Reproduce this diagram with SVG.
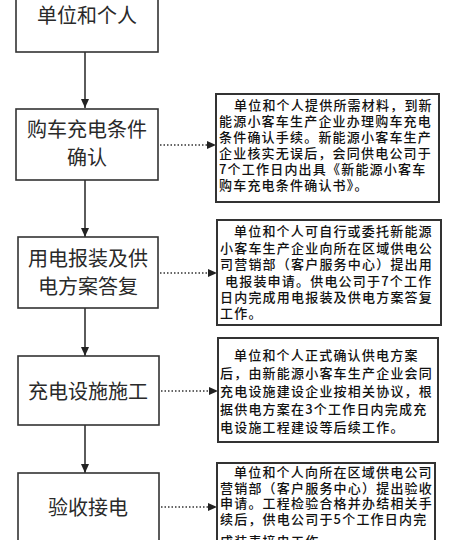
<svg xmlns="http://www.w3.org/2000/svg" width="450" height="540" viewBox="0 0 450 540">
<defs>
<style>
.step rect{fill:#fff;stroke:#333;stroke-width:1.6}
.step text{font-family:"Noto Sans CJK SC","Noto Sans",sans-serif;font-size:20px;fill:#2a2a2a;text-anchor:middle}
.note rect{fill:#fff;stroke:#333;stroke-width:2}
.note text{font-family:"Noto Sans CJK SC","Noto Sans",sans-serif;font-size:13px;letter-spacing:1.2px;font-weight:500;fill:#111}
.flow{stroke:#333;stroke-width:1.6;fill:none}
.dot{stroke:#333;stroke-width:1.6;fill:none;stroke-dasharray:1.5 2}
</style>
<marker id="ah" markerWidth="10" markerHeight="10" refX="9" refY="5" orient="auto" markerUnits="userSpaceOnUse">
<path d="M0,1 L9,5 L0,9 Z" fill="#222"/>
</marker>
</defs>
<rect width="450" height="540" fill="#fff"/>

<g id="connectors">
<line class="flow" x1="85" y1="52" x2="85" y2="108" marker-end="url(#ah)"/>
<line class="flow" x1="85" y1="180" x2="85" y2="237" marker-end="url(#ah)"/>
<line class="flow" x1="85" y1="308" x2="85" y2="356" marker-end="url(#ah)"/>
<line class="flow" x1="85" y1="425" x2="85" y2="473" marker-end="url(#ah)"/>
<line class="dot" x1="160" y1="145" x2="216" y2="145" marker-end="url(#ah)"/>
<line class="dot" x1="160" y1="273" x2="217" y2="273" marker-end="url(#ah)"/>
<line class="dot" x1="161" y1="391" x2="218" y2="391" marker-end="url(#ah)"/>
<line class="dot" x1="161" y1="507" x2="217" y2="507" marker-end="url(#ah)"/>
</g>

<g id="step1" class="step">
<rect x="16" y="-20" width="142" height="72"/>
<text x="87" y="23">单位和个人</text>
</g>
<g id="step2" class="step">
<rect x="16" y="109" width="142" height="71"/>
<text x="87" y="137">购车充电条件</text>
<text x="87" y="165">确认</text>
</g>
<g id="step3" class="step">
<rect x="18" y="237" width="140" height="71"/>
<text x="88" y="266">用电报装及供</text>
<text x="88" y="294">电方案答复</text>
</g>
<g id="step4" class="step">
<rect x="18" y="356" width="141" height="69"/>
<text x="88" y="399">充电设施施工</text>
</g>
<g id="step5" class="step">
<rect x="18" y="473" width="141" height="100"/>
<text x="88" y="515">验收接电</text>
</g>

<g id="note1" class="note">
<rect x="216" y="94" width="223" height="108"/>
<text x="234" y="110">单位和个人提供所需材料，到新</text>
<text x="219" y="126">能源小客车生产企业办理购车充电</text>
<text x="219" y="142">条件确认手续。新能源小客车生产</text>
<text x="219" y="158">企业核实无误后，会同供电公司于</text>
<text x="219" y="174">7个工作日内出具《新能源小客车</text>
<text x="219" y="190">购车充电条件确认书》。</text>
</g>
<g id="note2" class="note">
<rect x="217" y="220" width="224" height="105"/>
<text x="234" y="236">单位和个人可自行或委托新能源</text>
<text x="220" y="252.5">小客车生产企业向所在区域供电公</text>
<text x="220" y="269">司营销部（客户服务中心）提出用</text>
<text x="225" y="285.5">电报装申请。供电公司于7个工作</text>
<text x="220" y="302">日内完成用电报装及供电方案答复</text>
<text x="220" y="318">工作。</text>
</g>
<g id="note3" class="note">
<rect x="218" y="338" width="220" height="104"/>
<text x="234" y="360">单位和个人正式确认供电方案</text>
<text x="220" y="378">后，由新能源小客车生产企业会同</text>
<text x="220" y="396">充电设施建设企业按相关协议，根</text>
<text x="220" y="414">据供电方案在3个工作日内完成充</text>
<text x="220" y="432">电设施工程建设等后续工作。</text>
</g>
<g id="note4" class="note">
<rect x="217" y="463" width="218" height="100"/>
<text x="234" y="477">单位和个人向所在区域供电公司</text>
<text x="220" y="492.5">营销部（客户服务中心）提出验收</text>
<text x="220" y="508">申请。工程检验合格并办结相关手</text>
<text x="220" y="524">续后，供电公司于5个工作日内完</text>
<text x="220" y="546">成装表接电工作。</text>
</g>
</svg>
